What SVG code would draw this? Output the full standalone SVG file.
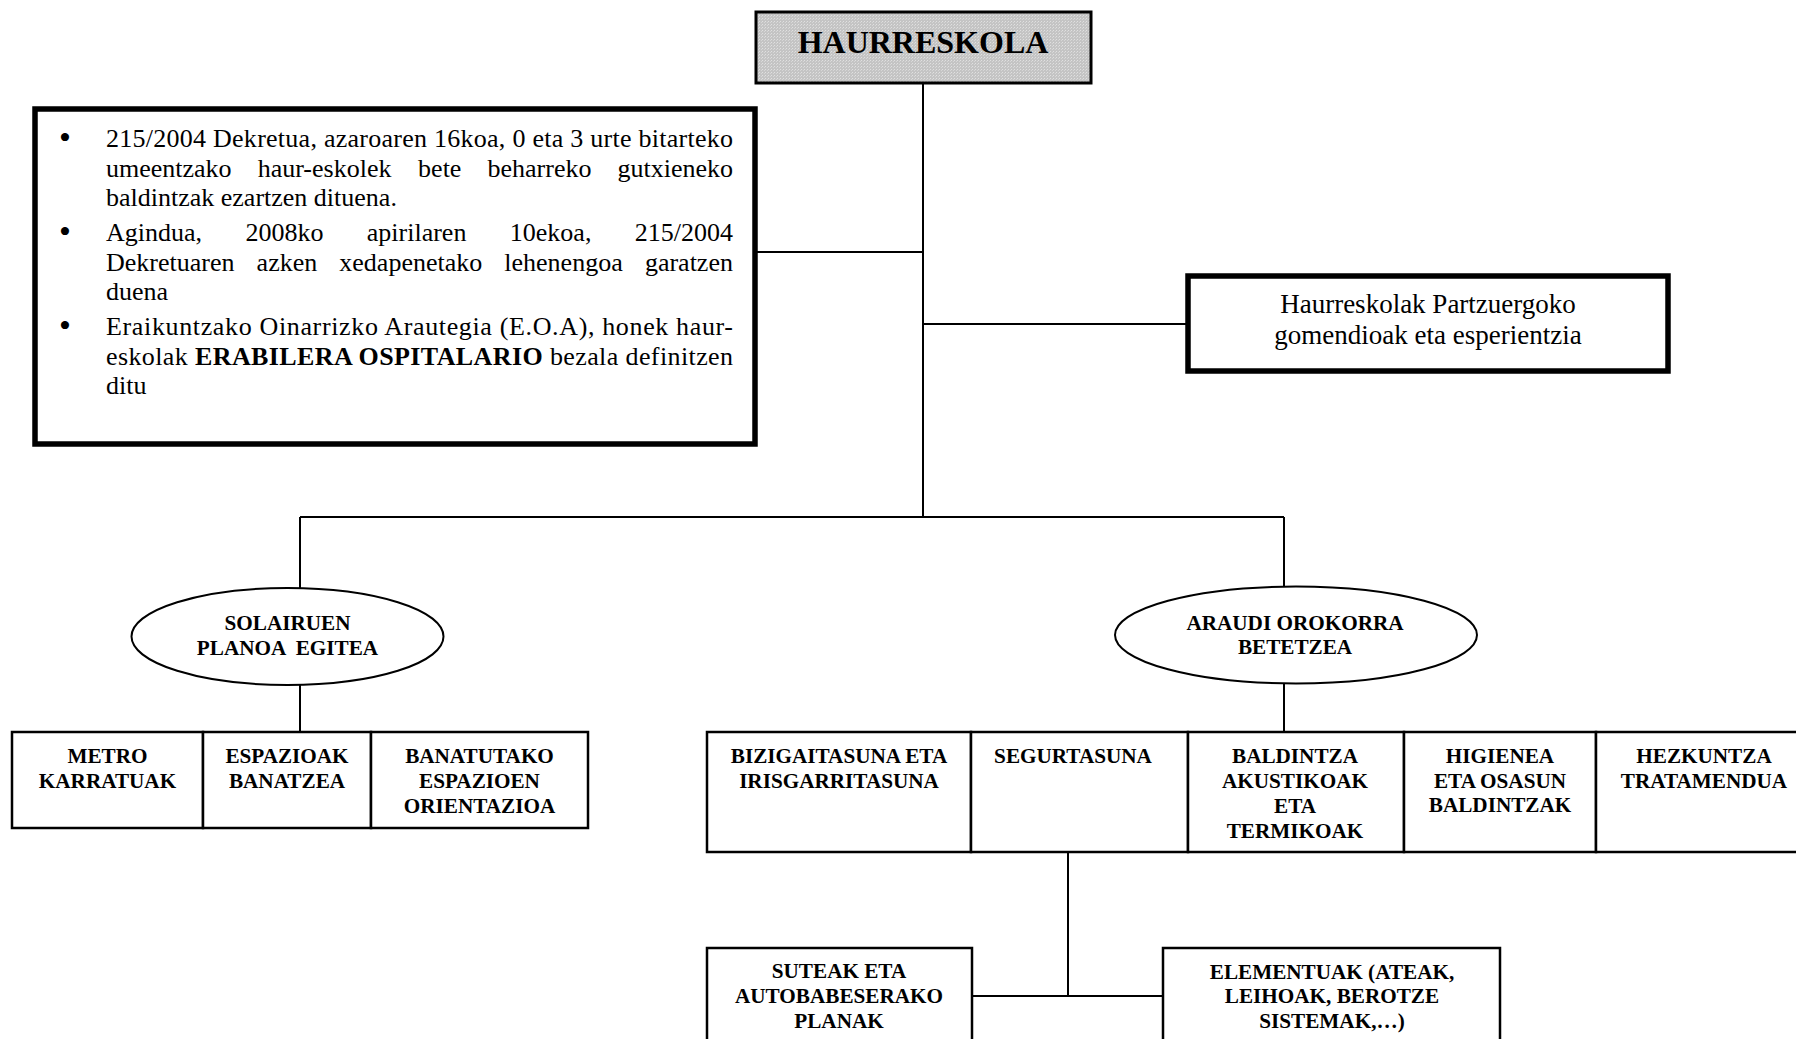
<svg xmlns="http://www.w3.org/2000/svg" width="1796" height="1039" viewBox="0 0 1796 1039">
<defs>
<pattern id="dots" width="3" height="3" patternUnits="userSpaceOnUse">
<rect width="3" height="3" fill="#c4c4c4"/>
<rect x="0" y="0" width="1" height="1" fill="#e0e0e0"/>
<rect x="2" y="1" width="1" height="1" fill="#d6d6d6"/>
</pattern>
</defs>
<style>
.ln{stroke:#000;stroke-width:2;fill:none}
.thick{stroke:#000;stroke-width:5.5;fill:#fff}
.box{stroke:#000;stroke-width:2.5;fill:#fff}
.el{stroke:#000;stroke-width:2;fill:#fff}
.t{font-family:"Liberation Serif","Times New Roman",serif;font-size:26px;fill:#000}
.bul{font-size:34px;text-anchor:middle}
.r{font-family:"Liberation Serif","Times New Roman",serif;font-size:27px;fill:#000;text-anchor:middle}
.b{font-family:"Liberation Serif","Times New Roman",serif;font-size:21.2px;font-weight:bold;fill:#000;text-anchor:middle}
.title{font-family:"Liberation Serif","Times New Roman",serif;font-size:32px;font-weight:bold;fill:#000;text-anchor:middle}
</style>
<rect width="1796" height="1039" fill="#fff"/>
<g id="connectors">
<path class="ln" d="M923 84 V517"/>
<path class="ln" d="M757 252 H923"/>
<path class="ln" d="M923 324 H1188"/>
<path class="ln" d="M300 517 H1284"/>
<path class="ln" d="M300 517 V588"/>
<path class="ln" d="M1284 517 V587"/>
<path class="ln" d="M300 685 V732"/>
<path class="ln" d="M1284 683 V732"/>
<path class="ln" d="M1068 852 V996"/>
<path class="ln" d="M972 996 H1163"/>
</g>
<g id="haurreskola">
<rect x="756" y="12" width="335" height="71" fill="url(#dots)" stroke="#000" stroke-width="3"/>
<text class="title" x="923" y="53">HAURRESKOLA</text>
</g>
<g id="dekretuak">
<rect class="thick" x="35" y="109" width="720" height="335"/>
<g class="t">
<text class="bul" x="65" y="149">•</text>
<text x="106" y="147" textLength="627" lengthAdjust="spacing">215/2004 Dekretua, azaroaren 16koa, 0 eta 3 urte bitarteko</text>
<text y="176.5"><tspan x="106">umeentzako</tspan><tspan x="257.7">haur-eskolek</tspan><tspan x="418.1">bete</tspan><tspan x="487.5">beharreko</tspan><tspan x="617.5">gutxieneko</tspan></text>
<text x="106" y="206">baldintzak ezartzen dituena.</text>
<text class="bul" x="65" y="243">•</text>
<text y="241"><tspan x="106">Agindua,</tspan><tspan x="245.4">2008ko</tspan><tspan x="366.8">apirilaren</tspan><tspan x="509.8">10ekoa,</tspan><tspan x="634.8">215/2004</tspan></text>
<text y="270.5"><tspan x="106">Dekretuaren</tspan><tspan x="256.6">azken</tspan><tspan x="339.3">xedapenetako</tspan><tspan x="504.3">lehenengoa</tspan><tspan x="644.9">garatzen</tspan></text>
<text x="106" y="300">duena</text>
<text class="bul" x="65" y="337">•</text>
<text x="106" y="335" textLength="627" lengthAdjust="spacing">Eraikuntzako Oinarrizko Arautegia (E.O.A), honek haur-</text>
<text x="106" y="364.5" textLength="627" lengthAdjust="spacing">eskolak <tspan font-weight="bold">ERABILERA OSPITALARIO</tspan> bezala definitzen</text>
<text x="106" y="394">ditu</text>
</g>
</g>
<g id="partzuergoa">
<rect class="thick" x="1188" y="276" width="480" height="95"/>
<text class="r" x="1428" y="313">Haurreskolak Partzuergoko</text>
<text class="r" x="1428" y="344">gomendioak eta esperientzia</text>
</g>
<g id="solairuen-planoa">
<ellipse class="el" cx="287.5" cy="636.5" rx="156" ry="48.5"/>
<text class="b" x="287.5" y="630">SOLAIRUEN</text>
<text class="b" x="287.5" y="655" xml:space="preserve">PLANOA  EGITEA</text>
</g>
<g id="araudi-orokorra">
<ellipse class="el" cx="1296" cy="635" rx="181" ry="48.5"/>
<text class="b" x="1295" y="630">ARAUDI OROKORRA</text>
<text class="b" x="1295" y="654">BETETZEA</text>
</g>
<g id="metro-karratuak">
<rect class="box" x="12" y="732" width="191" height="96"/>
<text class="b" x="107.5" y="763">METRO</text>
<text class="b" x="107.5" y="788">KARRATUAK</text>
</g>
<g id="espazioak-banatzea">
<rect class="box" x="203" y="732" width="168" height="96"/>
<text class="b" x="287" y="763">ESPAZIOAK</text>
<text class="b" x="287" y="788">BANATZEA</text>
</g>
<g id="orientazioa">
<rect class="box" x="371" y="732" width="217" height="96"/>
<text class="b" x="479.5" y="763">BANATUTAKO</text>
<text class="b" x="479.5" y="788">ESPAZIOEN</text>
<text class="b" x="479.5" y="813">ORIENTAZIOA</text>
</g>
<g id="bizigaitasuna">
<rect class="box" x="707" y="732" width="264" height="120"/>
<text class="b" x="839" y="763">BIZIGAITASUNA ETA</text>
<text class="b" x="839" y="788">IRISGARRITASUNA</text>
</g>
<g id="segurtasuna">
<rect class="box" x="971" y="732" width="217" height="120"/>
<text class="b" x="1073" y="763">SEGURTASUNA</text>
</g>
<g id="baldintza-akustikoak">
<rect class="box" x="1188" y="732" width="216" height="120"/>
<text class="b" x="1295" y="763">BALDINTZA</text>
<text class="b" x="1295" y="788">AKUSTIKOAK</text>
<text class="b" x="1295" y="813">ETA</text>
<text class="b" x="1295" y="838">TERMIKOAK</text>
</g>
<g id="higienea">
<rect class="box" x="1404" y="732" width="192" height="120"/>
<text class="b" x="1500" y="763">HIGIENEA</text>
<text class="b" x="1500" y="788">ETA OSASUN</text>
<text class="b" x="1500" y="812">BALDINTZAK</text>
</g>
<g id="hezkuntza">
<rect class="box" x="1596" y="732" width="216" height="120"/>
<text class="b" x="1704" y="763">HEZKUNTZA</text>
<text class="b" x="1704" y="788">TRATAMENDUA</text>
</g>
<g id="suteak">
<rect class="box" x="707" y="948" width="265" height="120"/>
<text class="b" x="839" y="978">SUTEAK ETA</text>
<text class="b" x="839" y="1003">AUTOBABESERAKO</text>
<text class="b" x="839" y="1028">PLANAK</text>
</g>
<g id="elementuak">
<rect class="box" x="1163" y="948" width="337" height="120"/>
<text class="b" x="1332" y="979">ELEMENTUAK (ATEAK,</text>
<text class="b" x="1332" y="1003">LEIHOAK, BEROTZE</text>
<text class="b" x="1332" y="1028">SISTEMAK,…)</text>
</g>
</svg>
